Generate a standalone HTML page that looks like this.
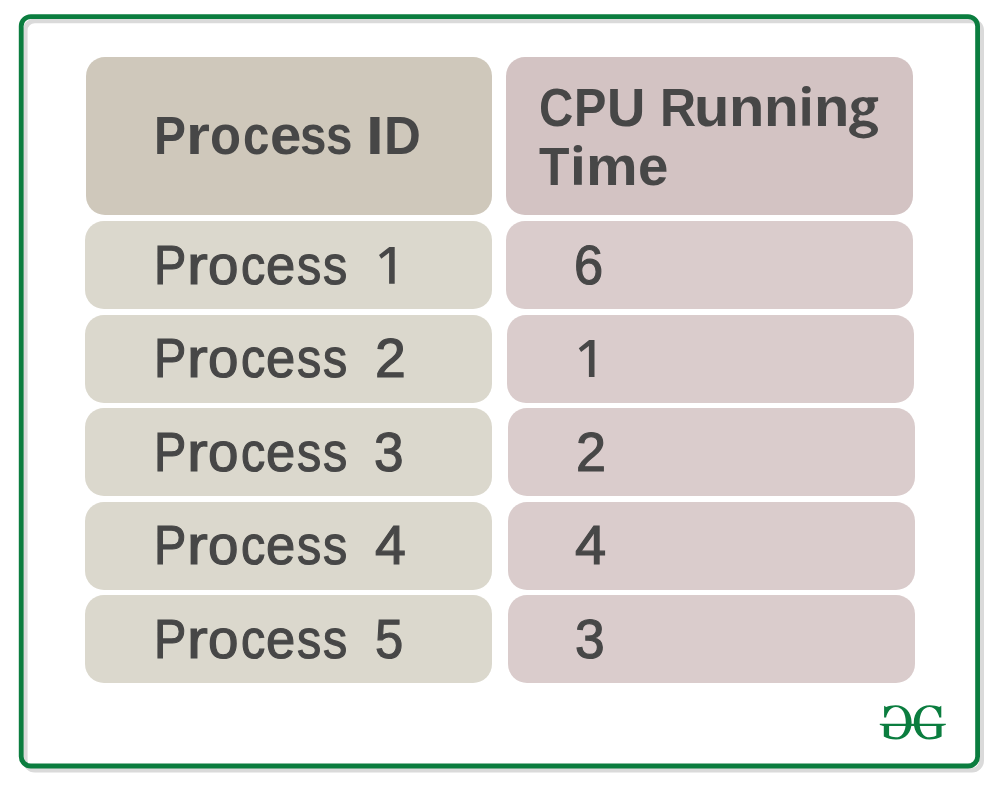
<!DOCTYPE html>
<html><head><meta charset="utf-8">
<style>
html,body{margin:0;padding:0;background:#fff;width:1000px;height:788px;overflow:hidden;position:relative}
.c{position:absolute;border-radius:19px}
.hl{background:#cfc8bb}
.hr{background:#d3c3c3}
.bl{background:#dbd8cd}
.br{background:#dacccc}
.t{position:absolute;font-family:"Liberation Sans",sans-serif;color:#474747;white-space:pre;line-height:60px;font-size:54px;transform-origin:0 49px}
.h{font-weight:bold}
.b{font-weight:normal;font-size:55px;-webkit-text-stroke:1.2px #474747}
</style></head><body>
<svg width="1000" height="788" style="position:absolute;left:0;top:0">
<defs><filter id="sh" x="-5%" y="-5%" width="110%" height="110%"><feGaussianBlur stdDeviation="0.5"/></filter></defs>
<rect x="25.2" y="20.8" width="956.4" height="749.4" rx="9.6" ry="9.6" fill="none" stroke="#dadada" stroke-width="4.8" filter="url(#sh)"/>
<rect x="21.2" y="16.6" width="956.4" height="749.4" rx="9.6" ry="9.6" fill="none" stroke="#0b7d3f" stroke-width="4.8"/>
</svg>
<div class="c hl" style="left:85.5px;top:57px;width:406.6px;height:158px"></div>
<div class="c hr" style="left:506px;top:57px;width:407px;height:158px"></div>
<div class="c bl" style="left:85.3px;top:221px;width:406.8px;height:88px"></div>
<div class="c br" style="left:506px;top:221px;width:407px;height:88px"></div>
<div class="c bl" style="left:85.3px;top:314.5px;width:406.8px;height:88px"></div>
<div class="c br" style="left:507px;top:314.5px;width:407px;height:88px"></div>
<div class="c bl" style="left:85.3px;top:408px;width:406.8px;height:88px"></div>
<div class="c br" style="left:507.5px;top:408px;width:407px;height:88px"></div>
<div class="c bl" style="left:85.3px;top:501.5px;width:406.8px;height:88px"></div>
<div class="c br" style="left:507.5px;top:501.5px;width:407px;height:88px"></div>
<div class="c bl" style="left:85.3px;top:595px;width:406.8px;height:88px"></div>
<div class="c br" style="left:507.5px;top:595px;width:407px;height:88px"></div>
<div class="t h" style="left:154.15px;top:105.10px;transform:scale(0.887,1.000)">P</div>
<div class="t h" style="left:186.05px;top:105.10px;transform:scale(1.138,1.030)">r</div>
<div class="t h" style="left:210.42px;top:105.10px;transform:scale(0.941,1.030)">o</div>
<div class="t h" style="left:243.20px;top:105.10px;transform:scale(0.880,1.030)">c</div>
<div class="t h" style="left:270.11px;top:105.10px;transform:scale(1.046,1.030)">e</div>
<div class="t h" style="left:300.20px;top:105.10px;transform:scale(0.880,1.030)">s</div>
<div class="t h" style="left:326.20px;top:105.10px;transform:scale(0.880,1.030)">s</div>
<div class="t h" style="left:365.86px;top:105.10px;transform:scale(1.186,1.000)">I</div>
<div class="t h" style="left:384.42px;top:105.10px;transform:scale(0.945,1.000)">D</div>
<div class="t h" style="left:539.44px;top:76.70px;transform:scale(0.880,1.000)">C</div>
<div class="t h" style="left:573.70px;top:76.70px;transform:scale(0.900,1.000)">P</div>
<div class="t h" style="left:606.75px;top:76.70px;transform:scale(0.982,1.000)">U</div>
<div class="t h" style="left:659.99px;top:76.70px;transform:scale(0.927,1.000)">R</div>
<div class="t h" style="left:693.91px;top:76.70px;transform:scale(1.072,1.030)">u</div>
<div class="t h" style="left:728.71px;top:76.70px;transform:scale(1.072,1.030)">n</div>
<div class="t h" style="left:763.79px;top:76.70px;transform:scale(1.052,1.030)">n</div>
<div class="t h" style="left:814.31px;top:76.70px;transform:scale(1.072,1.030)">n</div>
<div class="t h" style="left:539.38px;top:135.80px;transform:scale(0.923,1.000)">T</div>
<div class="t h" style="left:586.00px;top:135.80px;transform:scale(1.076,1.030)">m</div>
<div class="t h" style="left:637.98px;top:135.80px;transform:scale(1.012,1.030)">e</div>
<div class="t b" style="left:153.63px;top:234.70px;transform:scale(0.880,1.000)">P</div>
<div class="t b" style="left:186.80px;top:234.70px;transform:scale(1.133,1.000)">r</div>
<div class="t b" style="left:208.01px;top:234.70px;transform:scale(0.996,1.000)">o</div>
<div class="t b" style="left:241.08px;top:234.70px;transform:scale(0.880,1.000)">c</div>
<div class="t b" style="left:266.29px;top:234.70px;transform:scale(0.956,1.000)">e</div>
<div class="t b" style="left:296.72px;top:234.70px;transform:scale(0.880,1.000)">s</div>
<div class="t b" style="left:322.57px;top:234.70px;transform:scale(0.880,1.000)">s</div>
<div class="t b" style="left:574.10px;top:234.70px;transform:scale(0.952,1.000)">6</div>
<div class="t b" style="left:153.63px;top:327.90px;transform:scale(0.880,1.000)">P</div>
<div class="t b" style="left:186.80px;top:327.90px;transform:scale(1.133,1.000)">r</div>
<div class="t b" style="left:208.01px;top:327.90px;transform:scale(0.996,1.000)">o</div>
<div class="t b" style="left:241.08px;top:327.90px;transform:scale(0.880,1.000)">c</div>
<div class="t b" style="left:266.29px;top:327.90px;transform:scale(0.956,1.000)">e</div>
<div class="t b" style="left:296.72px;top:327.90px;transform:scale(0.880,1.000)">s</div>
<div class="t b" style="left:322.57px;top:327.90px;transform:scale(0.880,1.000)">s</div>
<div class="t b" style="left:374.88px;top:327.90px;transform:scale(1.008,1.000)">2</div>
<div class="t b" style="left:153.63px;top:421.80px;transform:scale(0.880,1.000)">P</div>
<div class="t b" style="left:186.80px;top:421.80px;transform:scale(1.133,1.000)">r</div>
<div class="t b" style="left:208.01px;top:421.80px;transform:scale(0.996,1.000)">o</div>
<div class="t b" style="left:241.08px;top:421.80px;transform:scale(0.880,1.000)">c</div>
<div class="t b" style="left:266.29px;top:421.80px;transform:scale(0.956,1.000)">e</div>
<div class="t b" style="left:296.72px;top:421.80px;transform:scale(0.880,1.000)">s</div>
<div class="t b" style="left:322.57px;top:421.80px;transform:scale(0.880,1.000)">s</div>
<div class="t b" style="left:374.47px;top:421.80px;transform:scale(0.967,1.000)">3</div>
<div class="t b" style="left:575.84px;top:421.80px;transform:scale(0.981,1.000)">2</div>
<div class="t b" style="left:153.63px;top:514.90px;transform:scale(0.880,1.000)">P</div>
<div class="t b" style="left:186.80px;top:514.90px;transform:scale(1.133,1.000)">r</div>
<div class="t b" style="left:208.01px;top:514.90px;transform:scale(0.996,1.000)">o</div>
<div class="t b" style="left:241.08px;top:514.90px;transform:scale(0.880,1.000)">c</div>
<div class="t b" style="left:266.29px;top:514.90px;transform:scale(0.956,1.000)">e</div>
<div class="t b" style="left:296.72px;top:514.90px;transform:scale(0.880,1.000)">s</div>
<div class="t b" style="left:322.57px;top:514.90px;transform:scale(0.880,1.000)">s</div>
<div class="t b" style="left:374.79px;top:514.90px;transform:scale(1.007,1.000)">4</div>
<div class="t b" style="left:575.28px;top:514.90px;transform:scale(1.018,1.000)">4</div>
<div class="t b" style="left:153.63px;top:608.50px;transform:scale(0.880,1.000)">P</div>
<div class="t b" style="left:186.80px;top:608.50px;transform:scale(1.133,1.000)">r</div>
<div class="t b" style="left:208.01px;top:608.50px;transform:scale(0.996,1.000)">o</div>
<div class="t b" style="left:241.08px;top:608.50px;transform:scale(0.880,1.000)">c</div>
<div class="t b" style="left:266.29px;top:608.50px;transform:scale(0.956,1.000)">e</div>
<div class="t b" style="left:296.72px;top:608.50px;transform:scale(0.880,1.000)">s</div>
<div class="t b" style="left:322.57px;top:608.50px;transform:scale(0.880,1.000)">s</div>
<div class="t b" style="left:375.46px;top:608.50px;transform:scale(0.922,1.000)">5</div>
<div class="t b" style="left:575.36px;top:608.50px;transform:scale(0.970,1.000)">3</div>
<svg width="1000" height="788" style="position:absolute;left:0;top:0"><g fill="#474747"><path transform="translate(379 283.7)" d="M0 -28.7 L10.3 -36.8 L15.7 -36.8 L15.7 0 L10.1 0 L10.1 -31 L2.3 -24.9 Z"/><path transform="translate(578.8 376.9)" d="M0 -28.7 L10.3 -36.8 L15.7 -36.8 L15.7 0 L10.1 0 L10.1 -31 L2.3 -24.9 Z"/><rect x="802.4" y="97.2" width="7.5" height="28.5"/><ellipse cx="806.35" cy="89.8" rx="4.35" ry="3.8"/><rect x="574" y="156.3" width="7.8" height="28.5"/><ellipse cx="577.9" cy="148.8" rx="4.25" ry="3.8"/><path fill-rule="evenodd" d="M851.3 106.3 A11.75 9.2 0 1 0 874.8 106.3 A11.75 9.2 0 1 0 851.3 106.3 Z M858.6 106.45 A4.6 5.55 0 1 0 867.8 106.45 A4.6 5.55 0 1 0 858.6 106.45 Z"/><path d="M867.5 97.2 L878.1 97.3 L878.1 100.9 L873.6 102.4 L869 101.5 Z"/><path d="M857.2 113.2 C852.6 115.3 851.8 120.6 855.2 122.8 L861 121.2 C857.8 120.2 857.6 118 860.2 116 Z"/><path fill-rule="evenodd" d="M849.1 129.5 A14.45 8.9 0 1 0 878 129.5 A14.45 8.9 0 1 0 849.1 129.5 Z M855.8 130.25 A7.75 3.95 0 1 0 871.3 130.25 A7.75 3.95 0 1 0 855.8 130.25 Z"/></g></svg>
<svg width="1000" height="788" style="position:absolute;left:0;top:0">
<g fill="#0b7d3f">
<path id="gR" d="M941.3 705.8 L941.3 717.6 L939.3 717.6 C938.2 712.5 935 707.1 929.6 707.1 C923.2 707.1 919.6 713.5 919.6 722.4 C919.6 731.8 923.6 737.3 929.6 737.3 C932.3 737.3 934.6 736.7 936.3 735.6 L936.3 725.6 L941.6 725.6 L941.6 736.6 C938.4 738.6 934 739.5 929.4 739.5 C919.8 739.5 913.8 732.2 913.8 722.4 C913.8 712.3 920.2 705.2 929.8 705.2 C933.6 705.2 936.6 706 939.2 707 Z"/>
<path d="M941.3 705.8 L941.3 717.6 L939.3 717.6 C938.2 712.5 935 707.1 929.6 707.1 C923.2 707.1 919.6 713.5 919.6 722.4 C919.6 731.8 923.6 737.3 929.6 737.3 C932.3 737.3 934.6 736.7 936.3 735.6 L936.3 725.6 L941.6 725.6 L941.6 736.6 C938.4 738.6 934 739.5 929.4 739.5 C919.8 739.5 913.8 732.2 913.8 722.4 C913.8 712.3 920.2 705.2 929.8 705.2 C933.6 705.2 936.6 706 939.2 707 Z" transform="translate(1825.4 0) scale(-1 1)"/>
<path d="M879.8 723.7 L945.8 723.7 L945.8 724.9 C944 725.3 942.5 725.9 940.5 725.9 L885 725.9 C883 725.9 881.6 725.3 879.8 724.9 Z"/>
</g>
</svg>

</body></html>
